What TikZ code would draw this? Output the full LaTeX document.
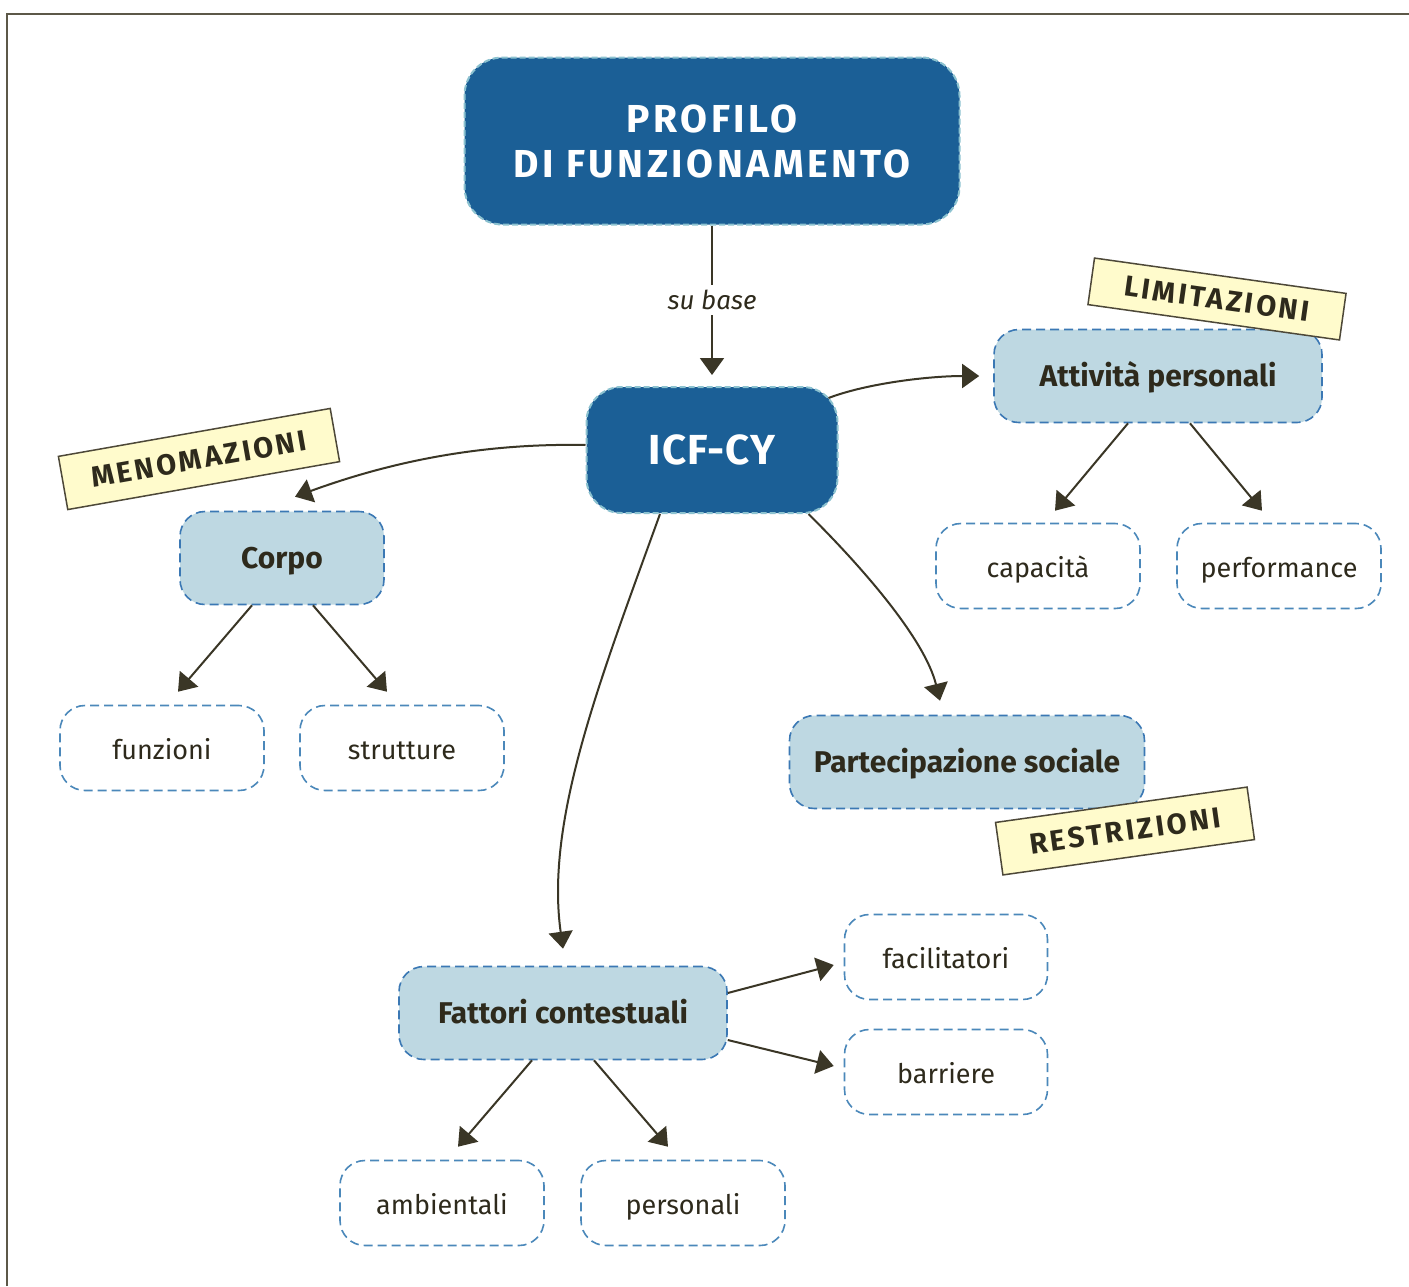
\documentclass[tikz,border=0pt]{standalone}
\usepackage{fontspec}
\setmainfont{Fira Sans}
\usetikzlibrary{arrows.meta,calc}
\definecolor{dblue}{HTML}{1B5F96}
\definecolor{dbdash}{HTML}{8CC2D0}
\definecolor{lblue}{HTML}{BED8E2}
\definecolor{lbdash}{HTML}{3B78B4}
\definecolor{wdash}{HTML}{4B88BA}
\definecolor{txt}{HTML}{2E2A1C}
\definecolor{arrc}{HTML}{3A3626}
\definecolor{tagfill}{HTML}{FFFBCC}
\definecolor{tagdraw}{HTML}{4D4838}
\definecolor{framec}{HTML}{5C5848}
\tikzset{
  bignode/.style={draw=dbdash, fill=dblue, dash pattern=on 6pt off 3pt, line width=2pt,
    rounded corners=38pt, text=white, align=center, inner sep=0pt},
  lbnode/.style={draw=lbdash, fill=lblue, dash pattern=on 9pt off 5pt, line width=1.6pt,
    rounded corners=25pt, text=txt, inner sep=0pt, minimum height=93pt,
    text height=23pt, text depth=2pt,
    font=\fontsize{30}{34}\selectfont\bfseries},
  wnode/.style={draw=wdash, fill=white, dash pattern=on 9pt off 5pt, line width=1.6pt,
    rounded corners=25pt, text=txt, inner sep=0pt, minimum width=204pt, minimum height=85pt,
    text height=24pt, text depth=2pt,
    font=\fontsize{27}{32}\selectfont},
  tagbox/.style={draw=tagdraw, fill=tagfill, line width=1.5pt, text=txt, inner sep=0pt,
    minimum width=254pt, minimum height=50pt,
    font=\fontsize{29}{32}\selectfont\bfseries\addfontfeatures{LetterSpace=10}},
  arr/.style={draw=arrc, line width=2pt, -{Triangle[length=17pt,width=24pt]}},
}
\begin{document}
\begin{tikzpicture}[x=1pt,y=-1pt]
\useasboundingbox (0,0) rectangle (1409,1286);
\fill[white] (0,0) rectangle (1409,1286);
\draw[framec, line width=2pt] (7,1286) -- (7,14) -- (1409,14);

% nodes
\node[bignode, minimum width=495pt, minimum height=167pt,
  font=\fontsize{39}{45}\selectfont\bfseries\addfontfeatures{LetterSpace=9}] (prof) at (712,141) {PROFILO\\DI FUNZIONAMENTO};
\node[bignode, rounded corners=35pt, minimum width=251pt, minimum height=126pt,
  font=\fontsize{42}{48}\selectfont\bfseries\addfontfeatures{LetterSpace=2}] (icf) at (712,450) {ICF-CY};

\node[lbnode, minimum width=328pt] (att) at (1158,376) {Attività personali};
\node[wnode] (cap) at (1038,566) {capacità};
\node[wnode] (perf) at (1279,566) {performance};

\node[lbnode, minimum width=204pt] (corpo) at (282,558) {Corpo};
\node[wnode] (funz) at (162,748) {funzioni};
\node[wnode] (strut) at (402,748) {strutture};

\node[lbnode, minimum width=355pt] (part) at (967,762) {Partecipazione sociale};

\node[lbnode, minimum width=328pt] (fat) at (563,1013) {Fattori contestuali};
\node[wnode, minimum width=203pt] (fac) at (946,957) {facilitatori};
\node[wnode, minimum width=203pt] (bar) at (946,1072) {barriere};
\node[wnode] (amb) at (442,1203) {ambientali};
\node[wnode] (pers) at (683,1203) {personali};

% tags
\node[tagbox, rotate=10, minimum height=54pt, minimum width=276pt] (meno) at (199,459) {MENOMAZIONI};
\node[tagbox, rotate=-8, minimum height=47pt] (limi) at (1217,299) {LIMITAZIONI};
\node[tagbox, rotate=8, minimum height=53pt] (rest) at (1125,831) {RESTRIZIONI};

% connectors
\draw[arr] (prof.south) -- ([yshift=11pt]icf.north)
  node[midway, fill=white, inner sep=5pt, text=txt, font=\fontsize{26}{30}\selectfont\itshape] (subase) {su base};
\draw[arr] ([yshift=5pt]icf.west) .. controls (480,443) and (390,462) .. ([shift={(13pt,14pt)}]corpo.north);
\draw[arr] ([shift={(-10pt,52pt)}]icf.east) .. controls (868,383) and (930,376) .. ([xshift=-14pt]att.west);
\draw[arr] ([xshift=-30pt]icf.south east) .. controls (865,570) and (925,640) .. ([shift={(-27pt,14pt)}]part.north);
\draw[arr] ([xshift=-52pt]icf.south) .. controls (600,680) and (545,820) .. ([yshift=17pt]fat.north);

\draw[arr] ([xshift=-30pt]att.south) -- ([shift={(17pt,12pt)}]cap.north);
\draw[arr] ([xshift=32pt]att.south) -- ([shift={(-17pt,12pt)}]perf.north);
\draw[arr] ([xshift=-30pt]corpo.south) -- ([shift={(16pt,13pt)}]funz.north);
\draw[arr] ([xshift=31pt]corpo.south) -- ([shift={(-15pt,13pt)}]strut.north);
\draw[arr] ([yshift=20pt]fat.east) -- ([shift={(-10pt,-8pt)}]fac.west);
\draw[arr] ([yshift=-27pt]fat.east) -- ([shift={(-10pt,6pt)}]bar.west);
\draw[arr] ([xshift=-31pt]fat.south) -- ([shift={(16pt,13pt)}]amb.north);
\draw[arr] ([xshift=31pt]fat.south) -- ([shift={(-15pt,13pt)}]pers.north);
\end{tikzpicture}
\end{document}
